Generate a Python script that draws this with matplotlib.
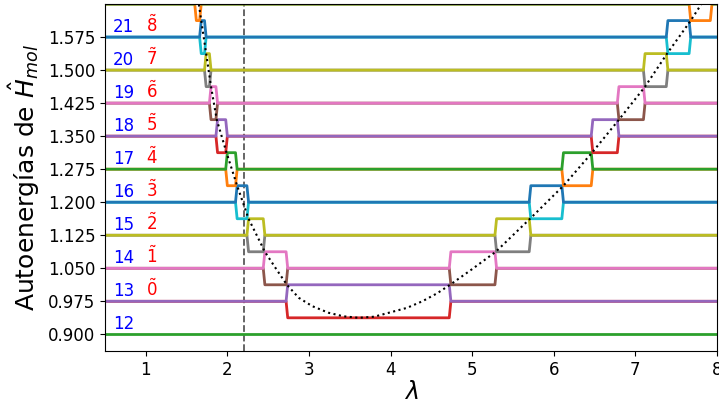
import numpy as np
import matplotlib
matplotlib.use("Agg")
import matplotlib.pyplot as plt

# niveles sin acoplar (n = 12 ... 22)
niveles = [0.900, 0.975, 1.050, 1.125, 1.200, 1.275, 1.350, 1.425, 1.500, 1.575, 1.650]
etiquetas_n = ["12", "13", "14", "15", "16", "17", "18", "19", "20", "21"]
etiquetas_v = [r"$\tilde{0}$", r"$\tilde{1}$", r"$\tilde{2}$", r"$\tilde{3}$", r"$\tilde{4}$",
               r"$\tilde{5}$", r"$\tilde{6}$", r"$\tilde{7}$", r"$\tilde{8}$"]

# niveles desdoblados (a medio camino entre dos niveles)
medios = [0.9375, 1.0125, 1.0875, 1.1625, 1.2375, 1.3125, 1.3875, 1.4625, 1.5375, 1.6125, 1.6875]

# valores de lambda donde la curva de potencial corta cada nivel medio
corte_izq = [np.nan, 2.73, 2.46, 2.26, 2.12, 1.99, 1.87, 1.80, 1.74, 1.68, 1.62]
corte_der = [np.nan, 4.73, 5.29, 5.71, 6.12, 6.47, 6.80, 7.12, 7.39, 7.68, 7.94]

# curva de potencial (punteada)
curva_lam = [1.60, 1.62, 1.68, 1.74, 1.80, 1.87, 1.99, 2.12, 2.26, 2.46, 2.60, 2.73, 2.875,
             3.04, 3.24, 3.42, 3.61, 3.80, 3.98, 4.20, 4.39, 4.57, 4.73, 5.00, 5.29, 5.71,
             6.12, 6.47, 6.80, 7.12, 7.39, 7.68, 7.94, 8.00]
curva_E = [1.7125, 1.6875, 1.6125, 1.5375, 1.4625, 1.3875, 1.3125, 1.2375, 1.1625, 1.0875,
           1.0480, 1.0125, 0.983, 0.964, 0.949, 0.941, 0.9375, 0.940, 0.949, 0.960, 0.975,
           0.993, 1.0125, 1.048, 1.0875, 1.1625, 1.2375, 1.3125, 1.3875, 1.4625, 1.5375,
           1.6125, 1.6875, 1.703]

lam_corte = 2.2

lam = np.arange(0.5, 8.0001, 0.02)

# autoenergias ordenadas: indice 2 -> nivel 12, pares (2k+1, 2k+2) -> nivel k
autoE = {2: np.full_like(lam, niveles[0])}
for k in range(1, len(niveles)):
    if k == 1:
        banda = (lam >= corte_izq[1]) & (lam <= corte_der[1])
    else:
        banda = (((lam >= corte_izq[k]) & (lam < corte_izq[k - 1])) |
                 ((lam > corte_der[k - 1]) & (lam <= corte_der[k])))
    autoE[2 * k + 1] = np.where(banda, medios[k - 1], niveles[k])
    autoE[2 * k + 2] = np.where(banda, medios[k], niveles[k])

fig, ax = plt.subplots(figsize=(7.19, 4.07), dpi=100)

ax.axvline(lam_corte, color="0.35", ls="--", lw=1.3)

for i in sorted(autoE):
    ax.plot(lam, autoE[i], color=f"C{i % 10}", lw=2)

ax.plot(curva_lam, curva_E, color="k", ls=":", lw=1.5)

for k, txt in enumerate(etiquetas_n):
    ax.text(0.6, niveles[k] + 0.012, txt, color="blue", fontsize=12,
            ha="left", va="baseline")
for k, txt in enumerate(etiquetas_v):
    ax.text(1.0, niveles[k + 1] + 0.012, txt, color="red", fontsize=12,
            ha="left", va="baseline")

ax.set_xlim(0.5, 8)
ax.set_ylim(0.8625, 1.65)
ax.set_yticks(niveles[:-1])
ax.set_yticklabels([f"{v:.3f}" for v in niveles[:-1]])
ax.tick_params(labelsize=12)
ax.set_xlabel(r"$\lambda$", fontsize=17, labelpad=1)
ax.set_ylabel(r"Autoenergías de $\hat{H}_{mol}$", fontsize=18)

plt.subplots_adjust(left=0.146, right=0.997, top=0.990, bottom=0.138)
fig.savefig("out.png", dpi=100)
